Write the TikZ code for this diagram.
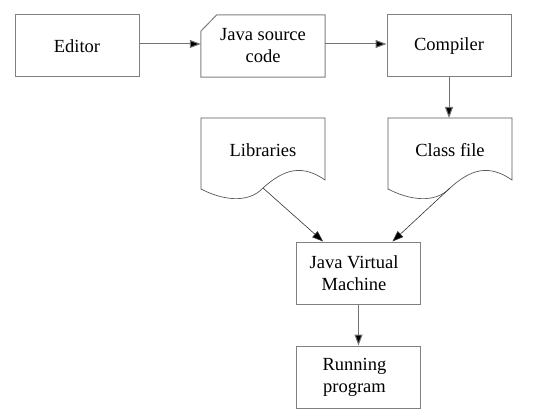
\documentclass[tikz,border=0pt]{standalone}
\usepackage{fontspec}
\setmainfont{Liberation Serif}
\usetikzlibrary{arrows.meta}
\begin{document}
\begin{tikzpicture}[x=1pt,y=-1pt,
  boxnode/.style={draw=black!50,line width=1pt,minimum width=124pt,minimum height=62pt,inner sep=0pt,align=center,font=\fontsize{18.5}{22}\selectfont},
  plainnode/.style={minimum width=124pt,minimum height=62pt,inner sep=0pt,align=center,font=\fontsize{18.5}{22}\selectfont},
  txt/.style={inner sep=0pt,align=center,font=\fontsize{18.5}{22}\selectfont},
  docline/.style={draw=black!65,line width=0.7pt},
  arr/.style={draw=black!55,line width=1pt,-{Triangle[length=11pt,width=8pt,fill=black]}},
  thinarr/.style={draw=black!80,line width=0.6pt,-{Triangle[length=11pt,width=8pt,fill=black]}}]
\useasboundingbox (0,0) rectangle (534,419);
\node[boxnode] (editor) at (77,46) {Editor};
\node[plainnode] (java) at (263,46) {Java source\\code};
\draw[draw=black!50,line width=1pt] (java.north west) ++(16,0) -- (java.north east) -- (java.south east) -- (java.south west) -- ++(0,-46) -- cycle;
\node[boxnode] (compiler) at (449,46) {Compiler};
% documents
\coordinate (libw) at (263,188);
\coordinate (clw) at (450,188);
\draw[docline] (201,118) -- (325,118) -- (325,180) .. controls (302,164) and (284,169) .. (libw) .. controls (248,204) and (222,200) .. (201,189) -- cycle;
\draw[docline] (388,118) -- (512,118) -- (512,180) .. controls (489,164) and (471,169) .. (clw) .. controls (435,204) and (409,200) .. (388,189) -- cycle;
\node[txt] (lib) at (263,150) {Libraries};
\node[txt] (cls) at (450,150) {Class file};
\node[boxnode] (jvm) at (358.5,273) {Java Virtual\hspace*{9pt}\\Machine\hspace*{9pt}};
\node[boxnode] (run) at (358.5,377) {Running\hspace*{8pt}\\program\hspace*{8pt}};
\draw[arr] ([yshift=2pt]editor.east) -- ([yshift=2pt]java.west);
\draw[arr] ([yshift=2pt]java.east) -- ([yshift=2pt]compiler.west);
\draw[arr] (compiler.south) -- (449,118);
\draw[thinarr] (libw) -- (jvm);
\draw[thinarr] (clw) -- (jvm);
\draw[arr] (jvm.south) -- (run.north);
\end{tikzpicture}
\end{document}
